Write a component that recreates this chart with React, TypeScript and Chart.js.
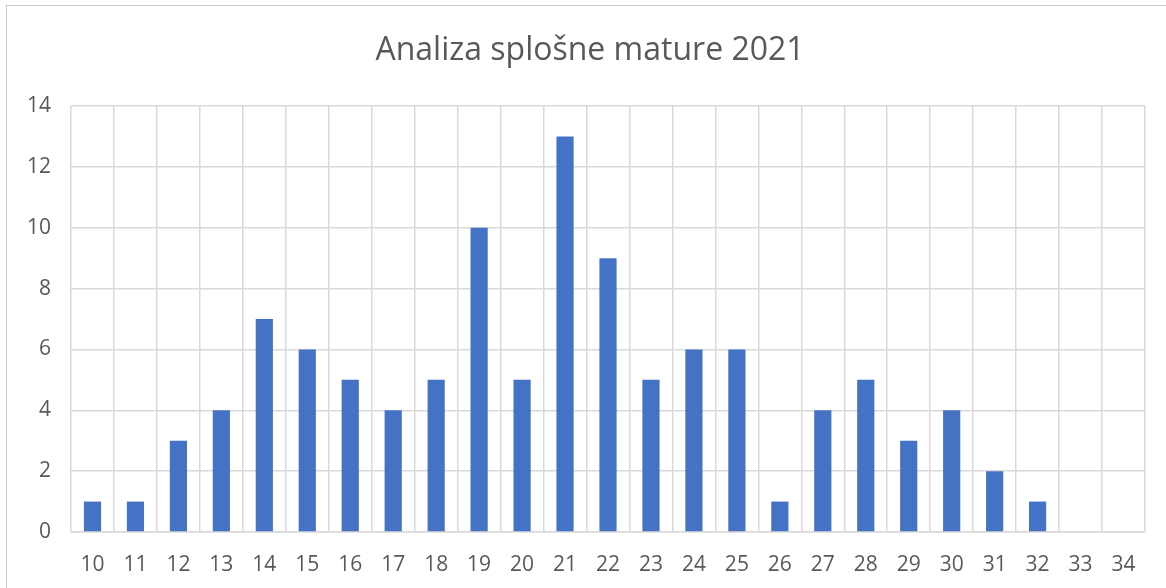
import React, { useEffect, useRef } from "react";
import { Chart, registerables } from "chart.js";

Chart.register(...registerables);

const categories = ["10","11","12","13","14","15","16","17","18","19","20","21","22","23","24","25","26","27","28","29","30","31","32","33","34"];
const counts = [1,1,3,4,7,6,5,4,5,10,5,13,9,5,6,6,1,4,5,3,4,2,1,0,0];
const titleText = "Analiza splošne mature 2021";

export default function App() {
  const ref = useRef<HTMLCanvasElement>(null);
  useEffect(() => {
    const font = "'Open Sans', 'Liberation Sans', sans-serif";
    const titlePlugin = {
      id: "centeredTitle",
      afterDraw(c: any) {
        const ctx = c.ctx;
        ctx.save();
        ctx.font = `normal 32px ${font}`;
        ctx.fillStyle = "#595959";
        ctx.textAlign = "center";
        ctx.textBaseline = "alphabetic";
        ctx.fillText(titleText, 590, 60);
        ctx.restore();
      },
    };
    const chart = new Chart(ref.current!, {
      type: "bar",
      data: {
        labels: categories,
        datasets: [{
          data: counts,
          backgroundColor: "#4472C4",
          barPercentage: 0.4,
          categoryPercentage: 1,
        }],
      },
      options: {
        animation: false,
        responsive: true,
        maintainAspectRatio: false,
        layout: { padding: { left: 0, right: 21, top: 106, bottom: 11 } },
        plugins: {
          legend: { display: false },
          tooltip: { enabled: false },
          title: { display: false },
        },
        scales: {
          x: {
            grid: { color: "#d9d9d9", lineWidth: 1.5, drawTicks: false, offset: true },
            border: { color: "#d9d9d9", width: 1.5 },
            ticks: { color: "#595959", font: { family: font, size: 21 }, padding: 20, maxRotation: 0, autoSkip: false },
            afterFit: (s: any) => { s.height = 45; },
          },
          y: {
            min: 0,
            max: 14,
            ticks: { stepSize: 2, color: "#595959", font: { family: font, size: 21 }, padding: 20 },
            grid: { color: "#d9d9d9", lineWidth: 1.5, drawTicks: false },
            border: { display: false },
            afterFit: (s: any) => { s.width = 71; },
          },
        },
      },
      plugins: [titlePlugin],
    });
    return () => chart.destroy();
  }, []);
  return (
    <div style={{ position: "fixed", left: 0, top: 0, width: 1166, height: 588, background: "#fff", overflow: "hidden" }}>
      <div style={{ position: "absolute", left: 6, top: 5, width: 1200, height: 620, border: "1.5px solid #c8c8c8", boxSizing: "border-box" }} />
      <div style={{ position: "absolute", left: 0, top: 0, width: 1166, height: 588 }}>
        <canvas ref={ref} />
      </div>
    </div>
  );
}
